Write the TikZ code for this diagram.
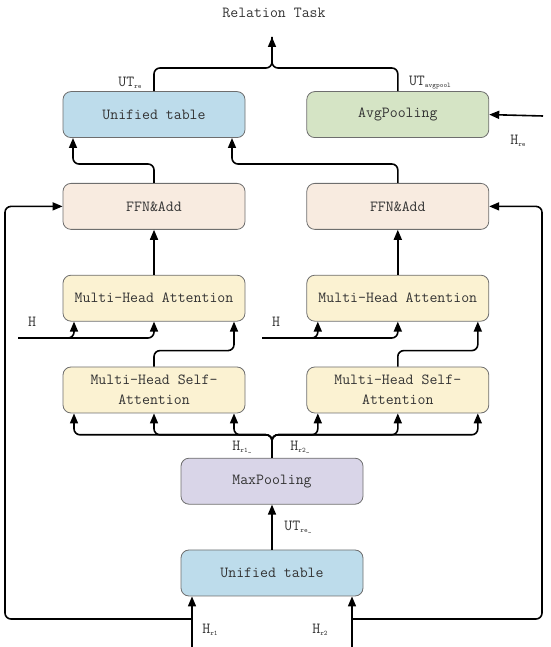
\documentclass[tikz,border=0pt]{standalone}
\usepackage{fontspec}
\usepackage{xcolor}
\definecolor{tabblue}{RGB}{189,220,235}
\definecolor{avggreen}{RGB}{213,228,197}
\definecolor{ffnpeach}{RGB}{248,235,224}
\definecolor{attyellow}{RGB}{251,242,210}
\definecolor{poolviolet}{RGB}{217,213,232}
\definecolor{edgegrey}{RGB}{110,110,110}
\usetikzlibrary{arrows.meta,positioning,calc}
\tikzset{
  box/.style={draw=edgegrey,line width=0.8pt,rounded corners=8pt,align=center,minimum width=182pt,minimum height=46pt,inner sep=2pt,text=black!80,font=\ttfamily\fontsize{15.4}{20}\selectfont},
  lab/.style={inner sep=0pt,text=black!80,font=\ttfamily\fontsize{15.4}{16}\selectfont},
  arr/.style={-{Triangle[length=10pt,width=8pt]},line width=1.6pt,rounded corners=6pt},
  line/.style={line width=1.6pt,rounded corners=6pt},
}
\newcommand{\lsub}[1]{\raisebox{-0.3ex}{\fontsize{7}{7}\selectfont #1}}

\begin{document}
\begin{tikzpicture}[x=1pt,y=1pt,node distance=45pt and 61pt]
    \useasboundingbox (0,0) rectangle (550,647);
    % boxes
    \node[box,fill=tabblue] (utb) at (272,74) {Unified table};
    \node[box,fill=poolviolet,above=of utb] (maxp) {MaxPooling};
    \node[box,fill=attyellow] (mhsal) at (154,257) {Multi-Head Self-\\Attention};
    \node[box,fill=attyellow,right=of mhsal] (mhsar) {Multi-Head Self-\\Attention};
    \node[box,fill=attyellow,above=of mhsal] (mhal) {Multi-Head Attention};
    \node[box,fill=attyellow,above=of mhsar] (mhar) {Multi-Head Attention};
    \node[box,fill=ffnpeach,above=of mhal] (ffnl) {FFN\&Add};
    \node[box,fill=ffnpeach,above=of mhar] (ffnr) {FFN\&Add};
    \node[box,fill=tabblue,above=of ffnl] (ut) {Unified table};
    \node[box,fill=avggreen,above=of ffnr] (avg) {AvgPooling};
    \node[lab] (task) at (274,634) {Relation Task};
    % free ends
    \coordinate (taskin) at (272,610);
    \coordinate (jt) at (272,579);
    \coordinate (hre) at (543,531);
    \coordinate (hl) at (18,309);
    \coordinate (hr) at (262,309);
    \coordinate (hr1in) at (192,0);
    \coordinate (hr2in) at (352,0);
    \coordinate (lpl) at (5,28);
    \coordinate (lpr) at (542,28);
    % labels
    \node[lab] (lut) at (130,564) {UT\lsub{re}};
    \node[lab] (lavg) at (430,564) {UT\lsub{avgpool}};
    \node[lab] (lhre) at (518,506) {H\lsub{re}};
    \node[lab] (lhl) at (32,325) {H};
    \node[lab] (lhr) at (276,325) {H};
    \node[lab] (lhr1b) at (242,200) {H\lsub{r1\_}};
    \node[lab] (lhr2b) at (300,200) {H\lsub{r2\_}};
    \node[lab] (lutre) at (298,120) {UT\lsub{re\_}};
    \node[lab] (lhr1) at (210,17) {H\lsub{r1}};
    \node[lab] (lhr2) at (320,17) {H\lsub{r2}};
    % connectors
    \draw[line] (ut.north) |- (jt) -- (taskin);
    \draw[arr] (avg.north) |- (jt) -- (taskin);
    \draw[arr] (hre) -- (avg.east);
    \draw[arr] (ffnl.north) -- ++(0,19) -| ([xshift=-81pt]ut.south);
    \draw[arr] (ffnr.north) -- ++(0,19) -| ([xshift=78pt]ut.south);
    \draw[arr] (mhal.north) -- (ffnl.south);
    \draw[arr] (mhar.north) -- (ffnr.south);
    \draw[arr] (hl) -| ([xshift=-80pt]mhal.south);
    \draw[arr] (hl) -| (mhal.south);
    \draw[arr] (hr) -| ([xshift=-80pt]mhar.south);
    \draw[arr] (hr) -| (mhar.south);
    \draw[arr] (mhsal.north) -- ++(0,16) -| ([xshift=80pt]mhal.south);
    \draw[arr] (mhsar.north) -- ++(0,16) -| ([xshift=80pt]mhar.south);
    \foreach \dx in {-80,0,80} {
      \draw[arr] (maxp.north) -- ++(0,23) -| ([xshift=\dx pt]mhsal.south);
      \draw[arr] (maxp.north) -- ++(0,23) -| ([xshift=\dx pt]mhsar.south);
    }
    \draw[arr] (utb.north) -- (maxp.south);
    \draw[arr] (hr1in) -- (utb.south -| hr1in);
    \draw[arr] (hr2in) -- (utb.south -| hr2in);
    \draw[arr] (hr1in |- lpl) -- (lpl) |- (ffnl.west);
    \draw[arr] (hr2in |- lpr) -- (lpr) |- (ffnr.east);
\end{tikzpicture}
\end{document}
